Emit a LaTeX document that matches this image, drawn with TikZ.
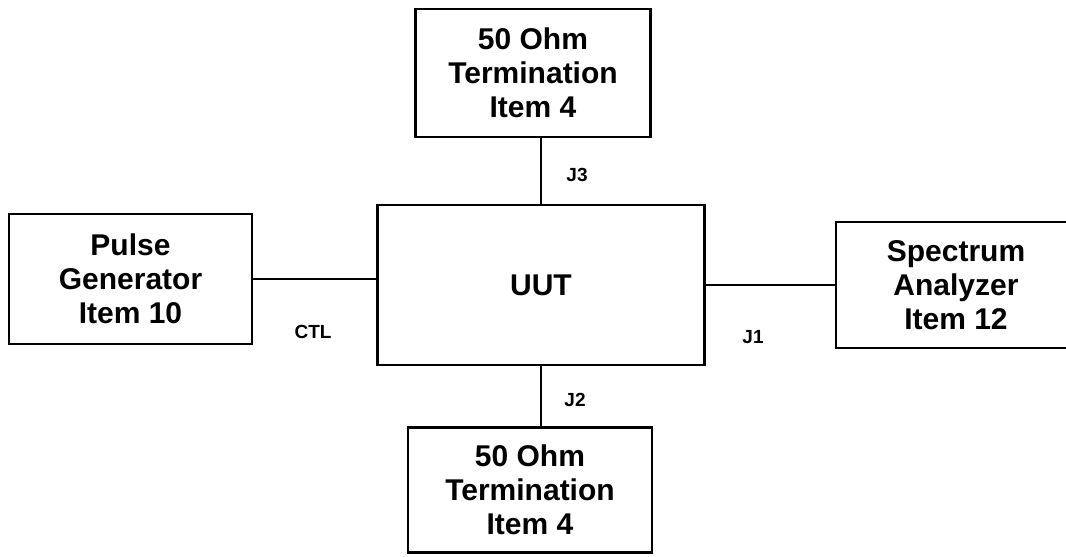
\documentclass[tikz,border=0pt]{standalone}
\usepackage{fontspec}
\setmainfont{Liberation Sans}

\tikzset{
  unitbox/.style={draw,line width=1.4pt,align=center,inner sep=0pt,
    font=\fontsize{15}{17}\selectfont\bfseries},
  portlbl/.style={inner sep=0pt,font=\fontsize{9.5}{11}\selectfont\bfseries},
  wire/.style={line width=1.4pt}
}

\begin{document}
\begin{tikzpicture}[x=0.5pt,y=-0.5pt]
\clip (0,0) rectangle (1066,557);
% units
\node[unitbox,minimum width=163.5pt,minimum height=80pt] (uut) at (541,285) {UUT};
\node[unitbox,minimum width=117.5pt,minimum height=64pt] (termtop) at (533,73) {50 Ohm\\Termination\\Item 4};
\node[unitbox,minimum width=122pt,minimum height=62.5pt] (termbot) at (530,490) {50 Ohm\\Termination\\Item 4};
\node[unitbox,minimum width=121.5pt,minimum height=65pt] (pulsegen) at (130.5,279) {Pulse\\Generator\\Item 10};
\node[unitbox,minimum width=120pt,minimum height=63pt] (specan) at (956,285) {Spectrum\\Analyzer\\Item 12};
% cables
\draw[wire] (uut.north) -- (uut.north |- termtop.south);
\draw[wire] (uut.south) -- (uut.south |- termbot.north);
\draw[wire] (pulsegen.east) -- (pulsegen.east -| uut.west);
\draw[wire] (uut.east) -- (uut.east -| specan.west);
% port labels
\node[portlbl] (lblj3) at (577,175) {J3};
\node[portlbl] (lblj2) at (575,400) {J2};
\node[portlbl] (lblj1) at (753,337) {J1};
\node[portlbl] (lblctl) at (313,332) {CTL};
\end{tikzpicture}
\end{document}
